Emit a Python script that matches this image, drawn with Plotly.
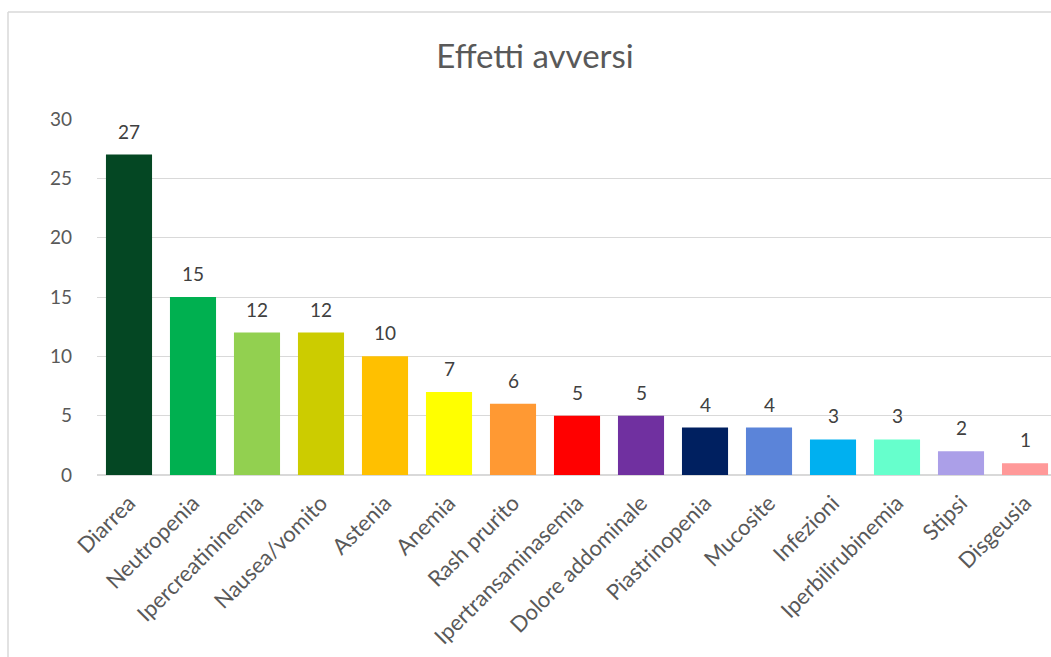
import plotly.graph_objects as go

categories = ["Diarrea", "Neutropenia", "Ipercreatininemia", "Nausea/vomito", "Astenia",
              "Anemia", "Rash prurito", "Ipertransaminasemia", "Dolore addominale",
              "Piastrinopenia", "Mucosite", "Infezioni", "Iperbilirubinemia", "Stipsi", "Disgeusia"]
values = [27, 15, 12, 12, 10, 7, 6, 5, 5, 4, 4, 3, 3, 2, 1]
colors = ["#044723", "#00B050", "#92D050", "#CCCC00", "#FFC000", "#FFFF00", "#FF9933",
          "#FF0000", "#7030A0", "#002060", "#5B84D9", "#00B0F0", "#66FFCC", "#AB9FE8", "#FF9999"]
y_ticks = [0, 5, 10, 15, 20, 25, 30]

FONT = "Lato"
TXT = "#595959"
W, H = 1051, 657
L, R, T, B = 97, 0, 119, 182
PW, PH = W - L - R, H - T - B

fig = go.Figure()
fig.add_trace(go.Bar(x=categories, y=values, marker=dict(color=colors, line=dict(width=0)),
                     width=0.72, showlegend=False, hoverinfo="x+y"))

for c, v in zip(categories, values):
    fig.add_annotation(x=c, y=v, text=str(v), showarrow=False, yanchor="bottom",
                       yshift=10, font=dict(family=FONT, size=19, color="#404040"))

fig.update_layout(
    width=W, height=H,
    margin=dict(l=L, r=R, t=T, b=B),
    paper_bgcolor="white", plot_bgcolor="white",
    title=dict(text="Effetti avversi", x=535 / W, xanchor="center", y=1 - 56 / H, yanchor="middle",
               font=dict(family=FONT, size=33, color=TXT)),
    xaxis=dict(range=[-0.5, 14.406], tickangle=-45, tickfont=dict(family=FONT, size=22, color=TXT),
               showgrid=False, showline=False, ticks="", zeroline=False, fixedrange=True,
               ticklabelstandoff=10),
    yaxis=dict(range=[0, 30], tickvals=y_ticks, tickfont=dict(family=FONT, size=19, color=TXT),
               showgrid=True, gridcolor="#d9d9d9", gridwidth=1, zeroline=True,
               zerolinecolor="#d9d9d9", zerolinewidth=2, ticks="", ticklabelstandoff=24,
               showline=False),
    bargap=0.28,
)

# outer chart border (left and top edges visible)
bx, by = 8, 12
fig.add_shape(type="line", xref="paper", yref="paper",
              x0=(bx - L) / PW, x1=(bx - L) / PW, y0=(B - H) / PH, y1=(H - by - B) / PH,
              line=dict(color="#d9d9d9", width=1.5))
fig.add_shape(type="line", xref="paper", yref="paper",
              x0=(bx - L) / PW, x1=(W + 10 - L) / PW, y0=(H - by - B) / PH, y1=(H - by - B) / PH,
              line=dict(color="#d9d9d9", width=1.5))

fig.write_html("out.html")
